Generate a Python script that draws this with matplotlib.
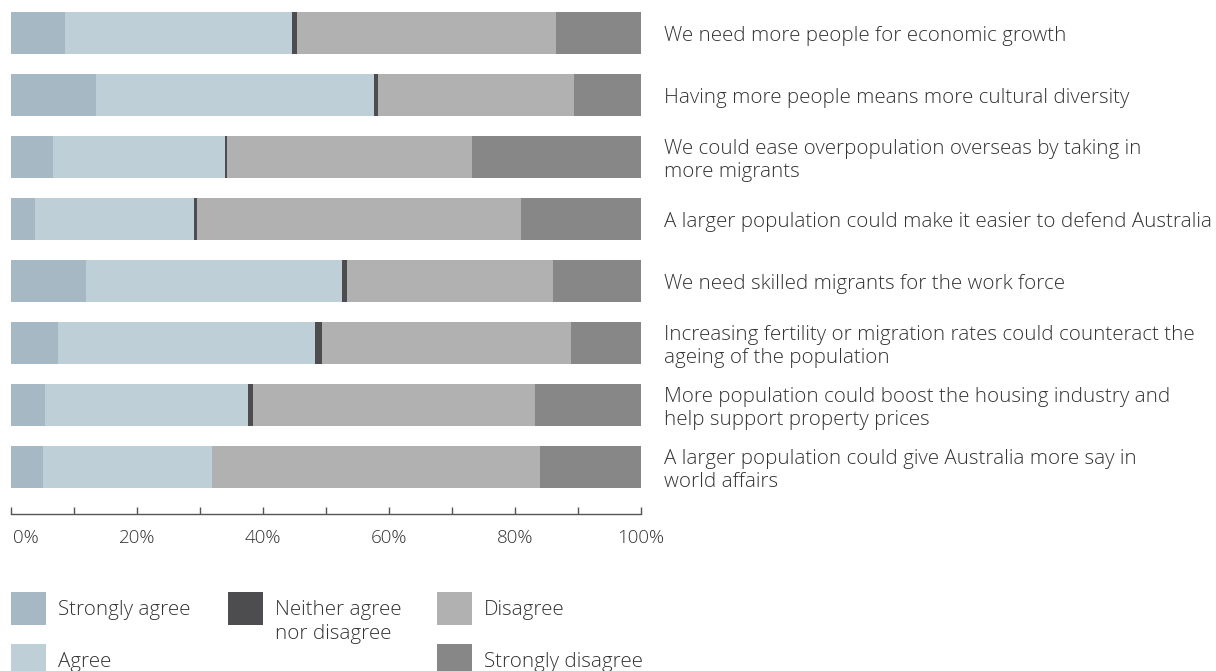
import matplotlib.pyplot as plt
from matplotlib.patches import Rectangle
import matplotlib.transforms as mtransforms

plt.rcParams['font.family'] = ['Open Sans', 'DejaVu Sans']
plt.rcParams['font.weight'] = 'light'

# statements, top to bottom
statements = [
    "We need more people for economic growth",
    "Having more people means more cultural diversity",
    "We could ease overpopulation overseas by taking in\nmore migrants",
    "A larger population could make it easier to defend Australia",
    "We need skilled migrants for the work force",
    "Increasing fertility or migration rates could counteract the\nageing of the population",
    "More population could boost the housing industry and\nhelp support property prices",
    "A larger population could give Australia more say in\nworld affairs",
]

# shares in percent
strongly_agree = [8.5, 13.5, 6.7, 3.8, 11.9, 7.5, 5.4, 5.1]
agree = [36.1, 44.1, 27.3, 25.2, 40.7, 40.7, 32.2, 26.8]
neither = [0.8, 0.7, 0.3, 0.5, 0.8, 1.2, 0.8, 0.0]
disagree = [41.1, 31.1, 38.8, 51.4, 32.7, 39.5, 44.8, 52.1]
strongly_disagree = [13.5, 10.6, 27.0, 19.1, 13.9, 11.1, 16.8, 16.0]

categories = ["Strongly agree", "Agree", "Neither agree\nnor disagree",
              "Disagree", "Strongly disagree"]
colors = ["#a6b8c4", "#bfcfd7", "#4d4d4f", "#b1b1b1", "#878787"]
series = [strongly_agree, agree, neither, disagree, strongly_disagree]

text_color = "#333333"
fs = 14.8
W, H = 1216, 671
fig = plt.figure(figsize=(W / 100, H / 100), dpi=100)

# axes spans x 11..641 px, y 12..514 px (from top)
ax = fig.add_axes([11 / W, (H - 514) / H, 630 / W, 502 / H])

ypos = list(range(len(statements)))
left = [0.0] * len(statements)
for vals, col in zip(series, colors):
    ax.barh(ypos, vals, left=left, height=0.677, color=col, linewidth=0)
    left = [l + v for l, v in zip(left, vals)]

ax.set_xlim(0, 100)
ax.set_ylim(7.758, -0.339)

for s in ['top', 'right', 'left']:
    ax.spines[s].set_visible(False)
ax.spines['bottom'].set_color('#555555')
ax.spines['bottom'].set_linewidth(1.0)
ax.set_yticks([])
ax.set_xticks(range(0, 101, 20))
ax.set_xticklabels([f"{t}%" for t in range(0, 101, 20)])
ax.set_xticks(range(10, 100, 20), minor=True)
ax.tick_params(axis='x', which='both', direction='in', length=5, width=1,
               color='#555555', labelsize=13.5, labelcolor=text_color, pad=11)
# nudge the 0% label so it sits inside the figure
first = ax.get_xticklabels()[0]
first.set_transform(first.get_transform() +
                    mtransforms.ScaledTranslation(15 / 100, 0, fig.dpi_scale_trans))

# statement labels to the right of the bars, centred on each bar
for y, label in zip(ypos, statements):
    ax.annotate(label, xy=(1.0365, y), xycoords=ax.get_yaxis_transform(),
                xytext=(0, -2.2), textcoords='offset points',
                va='center', ha='left', fontsize=fs, color=text_color,
                linespacing=1.2, annotation_clip=False)

# legend, drawn by hand in figure pixels
leg_pos = [(11, 592), (11, 644), (228, 592), (437, 592), (437, 644)]
for (x, y), col, name in zip(leg_pos, colors, categories):
    fig.add_artist(Rectangle((x / W, (H - y - 33) / H), 35 / W, 33 / H,
                             transform=fig.transFigure, color=col, lw=0))
    fig.text((x + 47) / W, (H - y - 8) / H, name, fontsize=fs,
             color=text_color, va='top', ha='left', linespacing=1.3)

fig.savefig("out.png", dpi=100)
